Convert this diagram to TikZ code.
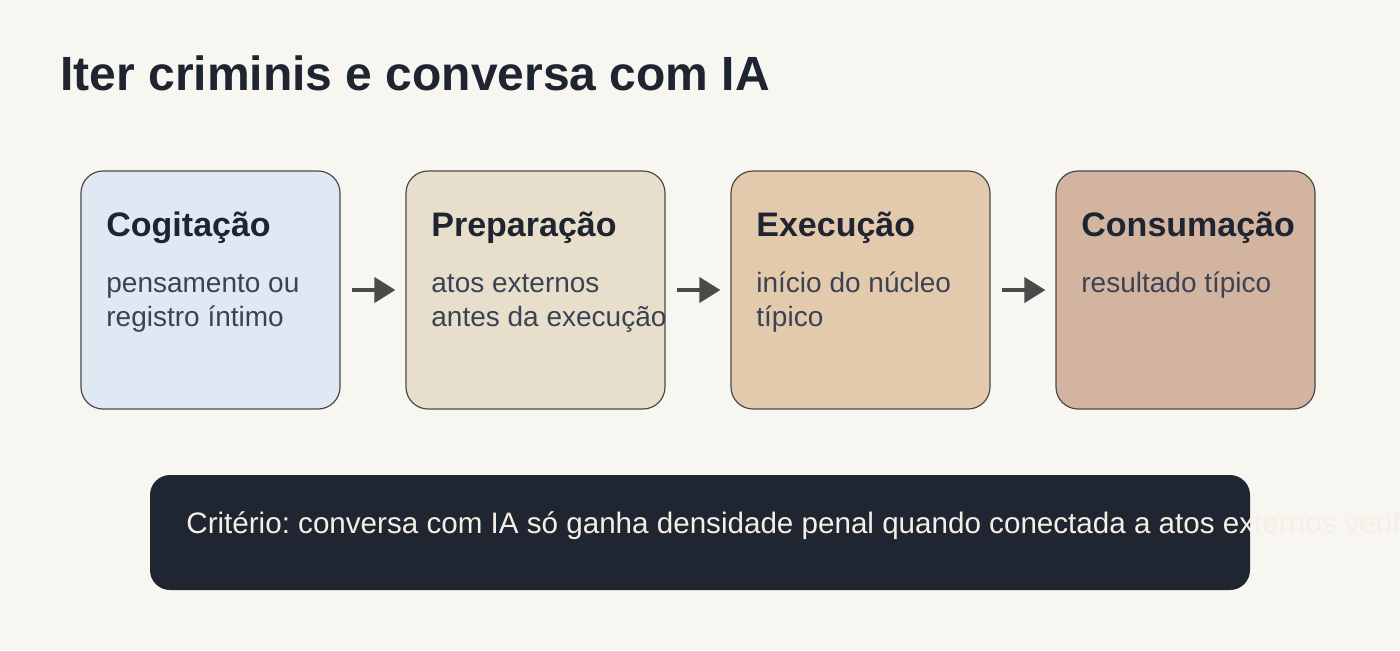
\documentclass[tikz,border=0pt]{standalone}
\usepackage{fontspec}
\setmainfont{Liberation Sans}
\frenchspacing
\usetikzlibrary{arrows.meta}
\definecolor{bg}{HTML}{F7F6F1}
\definecolor{ink}{HTML}{1F2530}
\definecolor{soft}{HTML}{3B4252}
\definecolor{edge}{HTML}{4A4A4A}
\definecolor{cogit}{HTML}{E0E8F3}
\definecolor{prep}{HTML}{E7DFCB}
\definecolor{exec}{HTML}{E4CAAD}
\definecolor{cons}{HTML}{D3B4A0}
\definecolor{night}{HTML}{1F2631}
\definecolor{paper}{HTML}{F6EFE6}
\tikzset{
  stage/.style={rectangle, draw=edge, line width=0.6pt, rounded corners=11pt, minimum width=129.5pt, minimum height=119pt, inner sep=0pt},
  head/.style={anchor=base west, inner sep=0pt, text=ink, font=\fontsize{17}{20}\selectfont\bfseries},
  body/.style={anchor=base west, inner sep=0pt, text=soft, align=left, font=\fontsize{14}{17}\selectfont},
  flow/.style={draw=edge, line width=2pt, -{Triangle[length=10.5pt,width=12.5pt]}, shorten <=5.5pt, shorten >=5pt}
}
\begin{document}
\begin{tikzpicture}[x=0.5pt, y=-0.5pt]
        \clip (0,0) rectangle (1400,650);
        \fill[bg] (0,0) rectangle (1400,650);
        \node [anchor=base west, inner sep=0pt, text=ink, font=\fontsize{24}{28}\selectfont\bfseries] (title) at (60,90) {Iter criminis e conversa com IA};

        \node [stage, fill=cogit] (C) at (210.5,290) {};
        \node [stage, fill=prep] (P) at (535.5,290) {};
        \node [stage, fill=exec] (E) at (860.5,290) {};
        \node [stage, fill=cons] (S) at (1185.5,290) {};

        \node [head] (Ch) at (106,236) {Cogitação};
        \node [head] (Ph) at (431,236) {Preparação};
        \node [head] (Eh) at (756,236) {Execução};
        \node [head] (Sh) at (1081,236) {Consumação};

        % two-line texts sit on their last baseline
        \node [body] (Cb) at (106,326) {pensamento ou\\registro íntimo};
        \node [body] (Pb) at (431,326) {atos externos\\antes da execução};
        \node [body] (Eb) at (756,326) {início do núcleo\\típico};
        \node [body] (Sb) at (1081,292) {resultado típico};

        \draw[flow] (C) -- (P); \draw[flow] (P) -- (E); \draw[flow] (E) -- (S);

        \node [rectangle, fill=night, rounded corners=10pt, minimum width=550pt, minimum height=57.5pt, inner sep=0pt] (note) at (700,532.5) {};
        \node [anchor=base west, inner sep=0pt, text=paper, font=\fontsize{14.8}{17}\selectfont] (noteText) at (186,533) {Critério: conversa com IA só ganha densidade penal quando conectada a atos externos verificáveis};
\end{tikzpicture}
\end{document}
